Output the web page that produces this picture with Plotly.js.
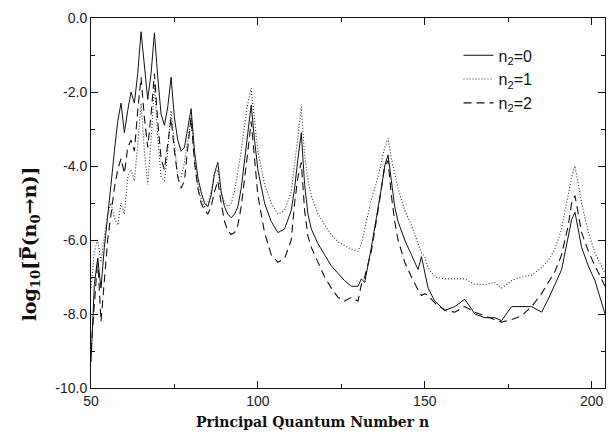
<!DOCTYPE html>
<html>
<head>
<meta charset="utf-8">
<script src="https://cdn.plot.ly/plotly-3.0.1.min.js"></script>
<style>html,body{margin:0;padding:0;background:#fff;}#chart{width:613px;height:441px;}</style>
</head>
<body>
<div id="chart"></div>
<script>
// Principal quantum number n
const nValues = [50,51,52,53,54,55,56,57,58,59,60,61,62,63,64,65,66,67,68,69,70,71,72,73,74,75,76,77,78,79,80,81,82,83,84,85,86,87,88,89,90,91,92,93,94,95,96,97,98,99,100,102,104,106,108,110,111,112,113,114,115,116,118,120,122,124,126,128,130,131,132,134,136,137,138,139,140,141,142,144,146,148,149,150,151,153,156,159,162,165,168,171,173,176,179,182,185,187,189,191,193,194,195,196,197,199,201,204];

// log10 P(n0->n), n2 = 0 (solid)
const logP_n2_0 = [-9.3,-7.2,-6.5,-7.3,-6.2,-5.4,-4.5,-3.6,-2.8,-2.3,-3.1,-2.5,-2.0,-2.3,-1.5,-0.37,-1.4,-2.2,-1.5,-0.4,-1.6,-2.6,-2.9,-2.4,-1.6,-2.7,-3.3,-3.6,-3.5,-3.0,-2.45,-3.6,-4.3,-4.7,-5.0,-5.1,-4.8,-4.2,-3.9,-4.7,-5.1,-5.3,-5.4,-5.3,-5.1,-4.6,-3.9,-3.1,-2.35,-3.3,-4.1,-5.0,-5.5,-5.8,-5.7,-5.2,-4.6,-3.8,-3.1,-4.5,-5.3,-5.7,-6.1,-6.4,-6.7,-6.9,-7.1,-7.25,-7.25,-7.05,-7.15,-6.2,-5.2,-4.6,-4.0,-3.7,-4.4,-5.1,-5.5,-6.0,-6.4,-6.8,-6.45,-6.9,-7.3,-7.65,-7.9,-7.8,-7.6,-8.0,-8.1,-8.1,-8.18,-7.8,-7.8,-7.8,-7.95,-7.6,-7.2,-6.8,-5.9,-5.45,-5.25,-5.7,-6.2,-6.7,-7.1,-8.0];

// n2 = 1 (dotted)
const logP_n2_1 = [-7.3,-6.3,-6.0,-6.6,-5.9,-5.3,-5.0,-5.4,-5.6,-5.0,-5.3,-4.3,-4.1,-4.4,-3.4,-2.3,-3.6,-4.5,-3.3,-1.8,-3.2,-4.3,-4.4,-3.6,-2.5,-3.5,-4.3,-4.3,-3.9,-3.3,-2.7,-3.8,-4.5,-4.9,-5.1,-5.0,-4.7,-4.2,-4.1,-4.7,-5.0,-5.1,-5.0,-4.7,-4.2,-3.6,-2.9,-2.3,-1.9,-2.8,-3.6,-4.5,-5.0,-5.3,-5.2,-4.7,-4.0,-3.2,-2.4,-3.7,-4.4,-4.8,-5.3,-5.6,-5.85,-6.05,-6.15,-6.25,-6.3,-6.1,-5.7,-4.9,-4.3,-3.9,-3.5,-3.25,-3.8,-4.2,-4.6,-5.2,-5.6,-6.1,-6.35,-6.45,-6.75,-7.0,-7.05,-7.05,-7.05,-7.2,-7.2,-7.15,-7.3,-7.1,-7.0,-6.95,-6.75,-6.55,-6.25,-5.7,-4.8,-4.3,-4.0,-4.5,-5.0,-5.8,-6.35,-6.9];

// n2 = 2 (dashed)
const logP_n2_2 = [-9.0,-7.8,-6.5,-8.2,-7.0,-6.0,-5.3,-4.6,-4.1,-3.8,-4.2,-3.5,-3.3,-3.6,-2.5,-1.6,-2.7,-3.5,-2.6,-1.5,-2.8,-3.8,-4.1,-3.4,-2.7,-3.6,-4.3,-4.6,-4.4,-3.5,-2.7,-3.9,-4.6,-5.0,-5.2,-5.3,-5.1,-4.7,-4.4,-5.0,-5.5,-5.75,-5.85,-5.8,-5.6,-5.1,-4.4,-3.6,-2.8,-3.9,-4.8,-5.8,-6.4,-6.6,-6.5,-6.0,-5.0,-4.3,-3.9,-5.2,-5.9,-6.2,-6.6,-7.0,-7.3,-7.55,-7.65,-7.55,-7.65,-7.2,-7.0,-6.3,-5.2,-4.6,-4.0,-3.85,-4.8,-5.5,-6.0,-6.6,-7.0,-7.35,-7.5,-7.45,-7.5,-7.7,-7.9,-7.95,-7.8,-7.95,-8.05,-8.15,-8.22,-8.15,-8.05,-7.8,-7.45,-7.15,-6.85,-6.4,-5.6,-5.0,-4.8,-5.3,-5.8,-6.3,-6.7,-7.25];

const seriesNames = ['n<sub>2</sub>=0', 'n<sub>2</sub>=1', 'n<sub>2</sub>=2'];
const xTickVals = [50, 100, 150, 200];
const yTickVals = [0, -2, -4, -6, -8, -10];

const dashes = ['solid', '1px,2px', '8px,5px'];
const widths = [1, 1.1, 1.1];
const colors = ['#111', '#333', '#111'];
const ys = [logP_n2_0, logP_n2_1, logP_n2_2];

const traces = ys.map((y, i) => ({
  x: nValues, y: y, type: 'scatter', mode: 'lines', name: seriesNames[i],
  line: {color: colors[i], width: widths[i], dash: dashes[i]}
}));

const tickFont = {family: 'Liberation Sans, Arial, sans-serif', size: 14, color: '#222'};
const layout = {
  width: 613, height: 441,
  margin: {l: 91, r: 8, t: 18, b: 53},
  paper_bgcolor: '#fff', plot_bgcolor: '#fff',
  showlegend: true,
  legend: {x: 0.715, y: 0.945, xanchor: 'left', yanchor: 'top', bgcolor: 'rgba(0,0,0,0)',
           font: {family: 'Liberation Sans, Arial, sans-serif', size: 16, color: '#111'}, tracegroupgap: 0},
  xaxis: {
    range: [50, 204], tickvals: xTickVals, ticktext: xTickVals.map(String),
    ticks: 'inside', ticklen: 7, tickwidth: 1, tickcolor: '#111',
    minor: {dtick: 25, tick0: 50, ticks: 'inside', ticklen: 4, tickcolor: '#111'},
    showline: true, linecolor: '#111', linewidth: 1, mirror: 'allticks',
    showgrid: false, zeroline: false, tickfont: tickFont
  },
  yaxis: {
    range: [-10, 0], tickvals: yTickVals, ticktext: yTickVals.map(v => v.toFixed(1)),
    ticks: 'inside', ticklen: 7, tickwidth: 1, tickcolor: '#111',
    minor: {dtick: 1, tick0: 0, ticks: 'inside', ticklen: 4, tickcolor: '#111'},
    showline: true, linecolor: '#111', linewidth: 1, mirror: 'allticks',
    showgrid: false, zeroline: false, tickfont: tickFont
  },
  annotations: [
    {xref: 'paper', yref: 'paper', x: (312 - 91) / 514, y: -0.064, xanchor: 'center', yanchor: 'top', showarrow: false,
     text: '<b>Principal Quantum Number n</b>',
     font: {family: 'DejaVu Serif, Liberation Serif, serif', size: 14, color: '#111'}},
    {xref: 'paper', yref: 'paper', x: -0.118, y: (388 - 244) / 370, xanchor: 'center', yanchor: 'middle', showarrow: false,
     textangle: -90,
     text: '<b>log<sub>10</sub>[P\u0305(n<sub>0</sub>\u2192n)]</b>',
     font: {family: 'DejaVu Serif, Liberation Serif, serif', size: 19, color: '#111'}}
  ]
};

Plotly.newPlot('chart', traces, layout, {displayModeBar: false, staticPlot: true});
</script>
</body>
</html>
